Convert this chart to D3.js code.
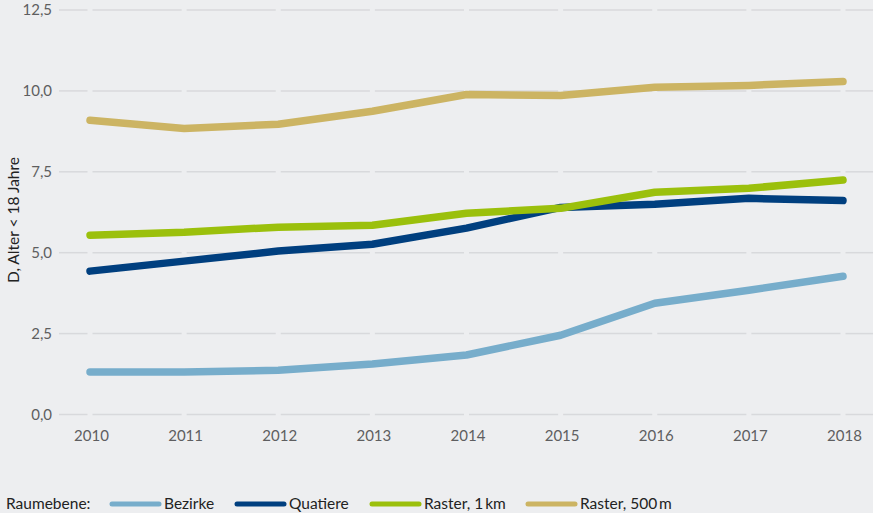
<!DOCTYPE html>
<html>
<head>
<meta charset="utf-8">
<script src="https://cdn.jsdelivr.net/npm/d3@7"></script>
<style>
  body { margin: 0; background: #edeef0; }
  svg { display: block; font-family: Lato, "Open Sans", sans-serif; }
</style>
</head>
<body>
<svg id="drawing_region"></svg>
<script>
const years = [2010, 2011, 2012, 2013, 2014, 2015, 2016, 2017, 2018];
const bezirke = [1.31, 1.31, 1.37, 1.56, 1.84, 2.45, 3.44, 3.84, 4.27];
const quatiere = [4.43, 4.74, 5.05, 5.26, 5.76, 6.40, 6.50, 6.68, 6.61];
const raster1km = [5.54, 5.63, 5.79, 5.85, 6.22, 6.37, 6.87, 6.99, 7.25];
const raster500m = [9.09, 8.84, 8.97, 9.37, 9.89, 9.86, 10.11, 10.17, 10.29];
const yTicks = [0, 2.5, 5, 7.5, 10, 12.5];
const seriesNames = ["Bezirke", "Quatiere", "Raster, 1\u2009km", "Raster, 500\u2009m"];
const seriesColors = ["#77adcb", "#003f7f", "#9bc00c", "#ccb463"];

const width = 873, height = 513;
const svg = d3.select("#drawing_region")
    .attr("width", width)
    .attr("height", height);

const x = d3.scalePoint().domain(years).range([90, 843]);
const y = d3.scaleLinear().domain([0, 12.5]).range([414.5, 10]);

// gridlines, broken at each year
const gap = 2.5;
const bounds = [59].concat(years.flatMap(yr => [x(yr) - gap, x(yr) + gap])).concat([873]);
const segs = [];
for (let i = 0; i < bounds.length; i += 2) segs.push([bounds[i], bounds[i + 1]]);

const grid = svg.append("g");
yTicks.forEach(t => {
    grid.selectAll(null)
        .data(segs)
        .enter()
        .append("line")
        .attr("x1", d => d[0])
        .attr("x2", d => d[1])
        .attr("y1", y(t))
        .attr("y2", y(t))
        .attr("stroke", "#d8d9dc")
        .attr("stroke-width", 1.5);
});

// y axis labels
const fmt = d3.format(".1f");
svg.append("g").selectAll("text")
    .data(yTicks)
    .enter()
    .append("text")
    .attr("x", 52)
    .attr("y", d => y(d))
    .attr("dy", "0.35em")
    .attr("text-anchor", "end")
    .attr("font-size", 15)
    .attr("fill", "#5e5e60")
    .text(d => fmt(d).replace(".", ","));

// x axis labels
svg.append("g").selectAll("text")
    .data(years)
    .enter()
    .append("text")
    .attr("x", d => x(d) + 1.5)
    .attr("y", 436)
    .attr("dy", "0.35em")
    .attr("text-anchor", "middle")
    .attr("font-size", 15)
    .attr("fill", "#5e5e60")
    .text(d => d);

svg.append("text")
    .attr("transform", "translate(19,220) rotate(-90)")
    .attr("text-anchor", "middle")
    .attr("font-size", 15.5)
    .attr("fill", "#222")
    .text("D, Alter < 18 Jahre");

// lines
const series = [bezirke, quatiere, raster1km, raster500m];
const line = d3.line()
    .x((d, i) => x(years[i]))
    .y(d => y(d));

svg.append("g").selectAll("path")
    .data(series)
    .enter()
    .append("path")
    .attr("d", d => line(d))
    .attr("fill", "none")
    .attr("stroke", (d, i) => seriesColors[i])
    .attr("stroke-width", 7.5)
    .attr("stroke-linecap", "round")
    .attr("stroke-linejoin", "round");

// legend
const legY = 504;
svg.append("text")
    .attr("x", 6)
    .attr("y", legY)
    .attr("dy", "0.35em")
    .attr("font-size", 15.5)
    .attr("fill", "#222")
    .text("Raumebene:");

const legX = [112, 237, 372, 528];
const leg = svg.append("g").selectAll("g")
    .data(seriesNames)
    .enter()
    .append("g")
    .attr("transform", (d, i) => `translate(${legX[i]},${legY})`);

leg.append("line")
    .attr("x1", 0)
    .attr("x2", 47)
    .attr("stroke", (d, i) => seriesColors[i])
    .attr("stroke-width", 5)
    .attr("stroke-linecap", "round");

leg.append("text")
    .attr("x", 52)
    .attr("dy", "0.35em")
    .attr("font-size", 15.5)
    .attr("fill", "#222")
    .text(d => d);
</script>
</body>
</html>
